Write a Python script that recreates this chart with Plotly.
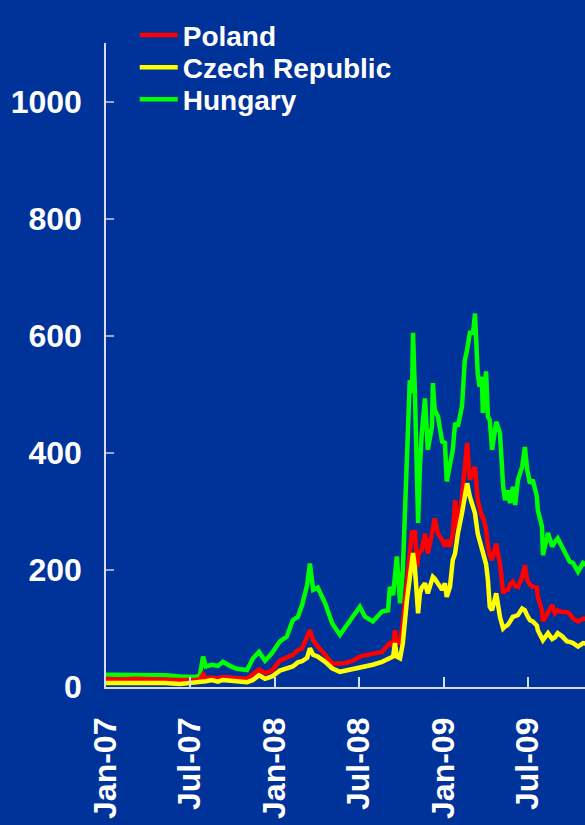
import plotly.graph_objects as go

# Observation dates (shared by all three series)
dates = [
    "2007-01-01", "2007-01-31", "2007-03-05", "2007-04-06", "2007-05-09", "2007-06-10",
    "2007-07-12", "2007-07-23", "2007-07-30", "2007-08-05", "2007-08-18", "2007-08-31",
    "2007-09-11", "2007-09-26", "2007-10-11", "2007-11-02", "2007-11-15", "2007-11-28",
    "2007-12-11", "2007-12-26", "2008-01-12", "2008-01-27", "2008-02-09", "2008-02-20",
    "2008-02-29", "2008-03-11", "2008-03-17", "2008-03-24", "2008-04-03", "2008-04-19",
    "2008-05-04", "2008-05-21", "2008-06-01", "2008-06-18", "2008-07-03", "2008-07-14",
    "2008-07-31", "2008-08-20", "2008-09-02", "2008-09-06", "2008-09-13", "2008-09-17",
    "2008-09-21", "2008-09-28", "2008-10-04", "2008-10-13", "2008-10-19", "2008-10-24",
    "2008-10-26", "2008-10-30", "2008-11-04", "2008-11-06", "2008-11-10", "2008-11-14",
    "2008-11-21", "2008-11-27", "2008-12-06", "2008-12-08", "2008-12-12", "2008-12-19",
    "2008-12-28", "2009-01-03", "2009-01-07", "2009-01-14", "2009-01-20", "2009-01-25",
    "2009-01-31", "2009-02-09", "2009-02-15", "2009-02-20", "2009-02-26", "2009-03-05",
    "2009-03-09", "2009-03-15", "2009-03-19", "2009-03-24", "2009-03-26", "2009-04-02",
    "2009-04-06", "2009-04-10", "2009-04-15", "2009-04-24", "2009-05-02", "2009-05-09",
    "2009-05-13", "2009-05-19", "2009-05-24", "2009-05-30", "2009-06-04", "2009-06-10",
    "2009-06-19", "2009-06-25", "2009-06-30", "2009-07-06", "2009-07-12", "2009-07-21",
    "2009-07-23", "2009-08-01", "2009-08-03", "2009-08-14", "2009-08-23", "2009-08-29",
    "2009-09-04", "2009-09-13", "2009-09-24", "2009-09-30", "2009-10-07", "2009-10-18",
    "2009-10-29", "2009-11-06",
]

# CDS spreads (basis points)
hungary = [
    21, 21, 21, 21, 20, 18,
    17, 20, 52, 35, 38, 36,
    43, 36, 31, 29, 49, 60,
    45, 58, 78, 86, 114, 120,
    140, 174, 211, 166, 170, 143,
    109, 89, 101, 120, 137, 120,
    112, 129, 131, 171, 157, 190,
    223, 143, 200, 393, 524, 502,
    605, 507, 331, 280, 376, 434,
    493, 405, 445, 519, 473, 462,
    419, 417, 351, 376, 405, 451,
    445, 479, 558, 576, 605, 605,
    638, 536, 513, 530, 468, 539,
    462, 456, 405, 453, 434, 342,
    319, 336, 314, 342, 311, 354,
    376, 410, 371, 348, 354, 325,
    302, 274, 225, 263, 240, 248,
    254, 240, 223, 214, 212, 197,
    212, 208,
]

poland = [
    14, 13, 14, 13, 12, 12,
    12, 13, 22, 15, 16, 15,
    17, 16, 15, 14, 22, 30,
    24, 28, 45, 50, 55, 63,
    66, 86, 97, 80, 69, 55,
    40, 40, 41, 45, 52, 54,
    56, 60, 72, 75, 70, 97,
    75, 75, 109, 188, 228, 268,
    250, 268, 205, 223, 230, 234,
    262, 228, 262, 274, 288, 262,
    251, 240, 251, 240, 262, 319,
    268, 325, 388, 417, 354, 371,
    376, 319, 305, 291, 291, 270,
    240, 225, 217, 245, 211, 160,
    165, 166, 175, 180, 172, 171,
    188, 208, 183, 175, 171, 170,
    154, 131, 112, 126, 140, 126,
    131, 128, 128, 125, 117, 112,
    117, 116,
]

czech = [
    7, 7, 8, 8, 7, 5,
    7, 8, 10, 10, 12, 9,
    12, 11, 10, 8, 12, 20,
    14, 18, 28, 32, 35, 42,
    44, 50, 66, 55, 52, 43,
    32, 26, 28, 30, 32, 35,
    38, 43, 47, 49, 52, 75,
    52, 49, 75, 149, 194, 215,
    229, 205, 160, 126, 160, 170,
    177, 160, 183, 188, 185, 177,
    166, 177, 154, 171, 217, 228,
    262, 297, 325, 348, 325, 308,
    297, 262, 250, 240, 235, 210,
    183, 137, 131, 160, 120, 100,
    103, 106, 112, 120, 121, 123,
    134, 131, 122, 114, 112, 105,
    97, 85, 80, 92, 82, 85,
    92, 87, 78, 77, 75, 69,
    75, 74,
]

series = [
    ("Hungary", hungary, "#00ff00", "legend3"),
    ("Poland", poland, "#ff0000", "legend"),
    ("Czech Republic", czech, "#ffff00", "legend2"),
]

BG = "#003399"
FONT = "Liberation Sans, Arial, sans-serif"

fig = go.Figure()
for name, vals, color, leg in series:
    fig.add_trace(go.Scatter(
        x=dates, y=vals, name=name, mode="lines",
        line=dict(color=color, width=4.5),
        legend=leg, showlegend=True,
    ))

legend_style = dict(
    xanchor="left", yanchor="middle",
    bgcolor="rgba(0,0,0,0)", borderwidth=0, itemwidth=38,
    font=dict(family=FONT, size=28, color="white", weight="bold"),
)

fig.update_layout(
    width=585, height=825,
    margin=dict(l=106, r=0, t=43, b=138, autoexpand=False),
    paper_bgcolor=BG, plot_bgcolor=BG,
    showlegend=True,
    legend=dict(x=0.06, y=1.012, **legend_style),
    legend2=dict(x=0.06, y=0.962, **legend_style),
    legend3=dict(x=0.06, y=0.912, **legend_style),
    xaxis=dict(
        type="date",
        range=["2007-01-01", "2009-11-02"],
        tickvals=["2007-01-01", "2007-07-01", "2008-01-01", "2008-07-01",
                  "2009-01-01", "2009-07-01"],
        ticktext=["Jan-07", "Jul-07", "Jan-08", "Jul-08", "Jan-09", "Jul-09"],
        tickangle=-90,
        ticks="inside", ticklen=10, tickwidth=1.5, tickcolor="#d8dcea",
        showline=True, linecolor="#d8dcea", linewidth=1.5,
        showgrid=False, zeroline=False, automargin=False,
        ticklabelstandoff=16,
        tickfont=dict(family=FONT, size=32, color="white", weight="bold"),
    ),
    yaxis=dict(
        range=[0, 1100],
        tickvals=[0, 200, 400, 600, 800, 1000],
        ticks="inside", ticklen=8, tickwidth=1.5, tickcolor="#9aa6cf",
        showline=True, linecolor="#d8dcea", linewidth=1.5,
        showgrid=False, zeroline=False, automargin=False,
        ticklabelstandoff=16,
        tickfont=dict(family=FONT, size=32, color="white", weight="bold"),
    ),
)

fig.write_html("out.html")
